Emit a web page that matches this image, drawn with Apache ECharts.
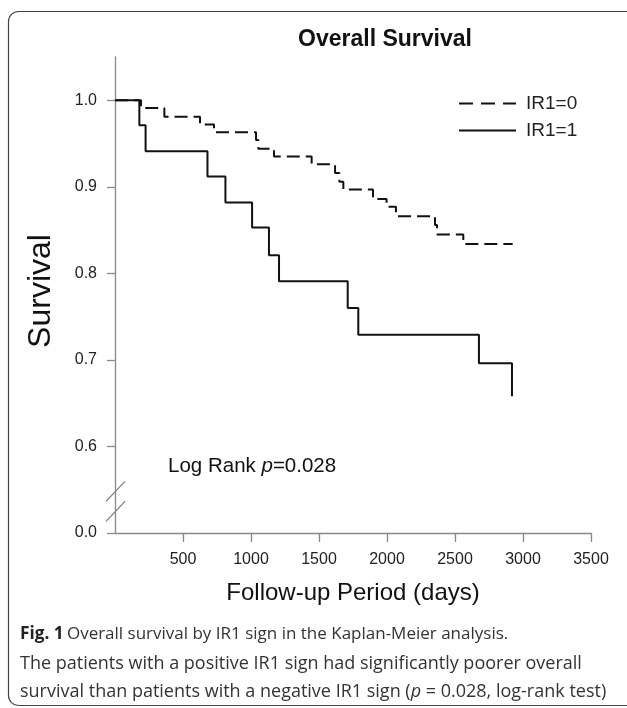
<!DOCTYPE html>
<html>
<head>
<meta charset="utf-8">
<script src="https://cdn.jsdelivr.net/npm/echarts@6/dist/echarts.min.js"></script>
<style>html,body{margin:0;padding:0;background:#fff}#c{width:627px;height:708px}</style>
</head>
<body>
<div id="c"></div>
<script>
// Kaplan-Meier step points: [day, survival]
const daysIR0 = [0, 191, 363, 625, 728, 1037, 1054, 1169, 1446, 1618, 1650, 1679, 1897, 1997, 2066, 2353, 2368, 2561, 2924];
const survIR0 = [1.0, 0.991, 0.981, 0.972, 0.963, 0.954, 0.944, 0.935, 0.926, 0.916, 0.906, 0.897, 0.886, 0.877, 0.866, 0.856, 0.845, 0.834, 0.834];
const daysIR1 = [0, 179, 225, 680, 812, 1008, 1132, 1206, 1711, 1789, 2676, 2919];
const survIR1 = [1.0, 0.971, 0.941, 0.912, 0.882, 0.853, 0.821, 0.791, 0.760, 0.729, 0.696, 0.658];
const xTicks = [500, 1000, 1500, 2000, 2500, 3000, 3500];
const yTicks = [0.5, 0.6, 0.7, 0.8, 0.9, 1.0]; // 0.5 position carries the broken-axis "0.0" label
const yTickLabels = ['0.0', '0.6', '0.7', '0.8', '0.9', '1.0'];
const seriesNames = ['IR1=0', 'IR1=1'];

const FONT = '"Liberation Sans", Arial, sans-serif';
const CAP = '"Open Sans", "Noto Sans", sans-serif';
const chart = echarts.init(document.getElementById('c'), null, {renderer: 'canvas'});

function pairs(xs, ys) { return xs.map((x, i) => [x, ys[i]]); }

chart.setOption({
  animation: false,
  backgroundColor: '#fff',
  title: {
    text: 'Overall Survival', left: 380, top: 23, textAlign: 'center',
    textStyle: {fontFamily: FONT, fontWeight: 'bold', fontSize: 23, color: '#111'}
  },
  legend: {
    orient: 'vertical', left: 453, top: 89, itemWidth: 57, itemHeight: 14, itemGap: 8,
    data: [
      {name: seriesNames[0], lineStyle: {type: [14, 8], width: 2}},
      {name: seriesNames[1], lineStyle: {type: 'solid', width: 2}}
    ],
    itemStyle: {opacity: 0},
    lineStyle: {width: 2},
    textStyle: {fontFamily: FONT, fontSize: 19, color: '#222', padding: [0, 0, 0, 5]}
  },
  grid: {left: 115, top: 57, right: 36, bottom: 175, containLabel: false},
  xAxis: {
    type: 'value', min: 0, max: 3500, interval: 500,
    name: 'Follow-up Period (days)', nameLocation: 'middle', nameGap: 48,
    nameTextStyle: {fontFamily: FONT, fontSize: 24, color: '#111'},
    axisLine: {show: true, lineStyle: {color: '#888', width: 1.3}},
    axisTick: {show: true, length: 9, lineStyle: {color: '#888', width: 1.3}, customValues: xTicks},
    axisLabel: {fontFamily: FONT, fontSize: 16, color: '#222', margin: 19, customValues: xTicks, formatter: v => String(v)},
    splitLine: {show: false}
  },
  yAxis: {
    type: 'value', min: 0.5, max: 1.05, interval: 0.1,
    name: 'Survival', nameLocation: 'middle', nameGap: 58, nameRotate: 90,
    nameTextStyle: {fontFamily: FONT, fontSize: 32, color: '#111', padding: [0, 0, 0, 8]},
    axisLine: {show: true, lineStyle: {color: '#888', width: 1.3}},
    axisTick: {show: true, length: 8, lineStyle: {color: '#888', width: 1.3}, customValues: yTicks},
    axisLabel: {
      fontFamily: FONT, fontSize: 16, color: '#222', margin: 18, customValues: yTicks,
      formatter: v => { const i = yTicks.findIndex(t => Math.abs(t - v) < 1e-6); return i >= 0 ? yTickLabels[i] : ''; }
    },
    splitLine: {show: false}
  },
  series: [
    {
      name: seriesNames[0], type: 'line', step: 'end', symbol: 'none',
      data: pairs(daysIR0, survIR0),
      lineStyle: {color: '#111', width: 2, type: [13, 6]},
      itemStyle: {color: '#111'}
    },
    {
      name: seriesNames[1], type: 'line', step: 'end', symbol: 'none',
      data: pairs(daysIR1, survIR1),
      lineStyle: {color: '#111', width: 2, type: 'solid'},
      itemStyle: {color: '#111'}
    }
  ]
});

// decorations: axis break marks, annotation, caption and frame
const b1 = chart.convertToPixel({gridIndex: 0}, [0, 0.548]);
const b2 = chart.convertToPixel({gridIndex: 0}, [0, 0.525]);
const ann = chart.convertToPixel({gridIndex: 0}, [390, 0.589]);
chart.setOption({
  graphic: [
    {type: 'rect', shape: {x: 8.5, y: 11.5, width: 640, height: 694, r: 10}, style: {fill: null, stroke: '#444', lineWidth: 1.2}, silent: true},
    {type: 'line', shape: {x1: b1[0] - 9, y1: b1[1] + 10, x2: b1[0] + 10, y2: b1[1] - 10}, style: {stroke: '#777', lineWidth: 1.2}},
    {type: 'line', shape: {x1: b2[0] - 9, y1: b2[1] + 10, x2: b2[0] + 10, y2: b2[1] - 10}, style: {stroke: '#777', lineWidth: 1.2}},
    {type: 'text', x: ann[0], y: ann[1], style: {
      text: '{a|Log Rank }{i|p}{a|=0.028}', verticalAlign: 'top',
      rich: {a: {fontFamily: FONT, fontSize: 20.5, fill: '#111'}, i: {fontFamily: FONT, fontSize: 20.5, fontStyle: 'italic', fill: '#111'}}
    }},
    {type: 'text', x: 20, y: 626, style: {
      text: '{b|Fig. 1} {n|Overall survival by IR1 sign in the Kaplan-Meier analysis.}', verticalAlign: 'top',
      rich: {b: {fontFamily: CAP, fontSize: 17.2, fontWeight: 'bold', fill: '#222'}, n: {fontFamily: CAP, fontSize: 17, fill: '#333'}}
    }},
    {type: 'text', x: 20, y: 655, style: {
      text: 'The patients with a positive IR1 sign had significantly poorer overall', verticalAlign: 'top',
      font: '18px ' + CAP, fill: '#333'
    }},
    {type: 'text', x: 20, y: 683, style: {
      text: '{n|survival than patients with a negative IR1 sign (}{i|p}{n| = 0.028, log-rank test)}', verticalAlign: 'top',
      rich: {n: {fontFamily: CAP, fontSize: 18, fill: '#333'}, i: {fontFamily: CAP, fontSize: 18, fontStyle: 'italic', fill: '#333'}}
    }}
  ]
});
</script>
</body>
</html>
